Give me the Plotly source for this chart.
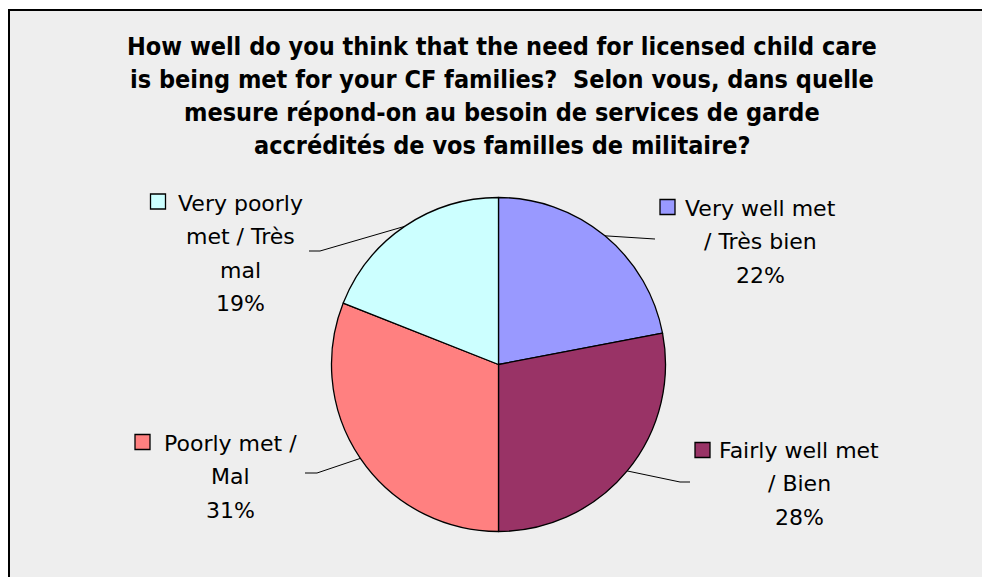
import math

import plotly.graph_objects as go

# ── data ──
CATEGORIES = ["Very well met / Très bien", "Fairly well met / Bien",
              "Poorly met / Mal", "Very poorly met / Très mal"]
VALUES = [22, 28, 31, 19]
COLORS = ["#9999FF", "#993366", "#FF8080", "#CCFFFF"]
# label text as wrapped in the original (the percentage is appended as last line)
LABEL_LINES = [["Very well met", "/ Très bien"],
               ["Fairly well met", "/ Bien"],
               ["Poorly met /", "Mal"],
               ["Very poorly", "met / Très", "mal"]]
TITLE_LINES = ["How well do you think that the need for licensed child care",
               "is being met for your CF families?  Selon vous, dans quelle",
               "mesure répond-on au besoin de services de garde",
               "accrédités de vos familles de militaire?"]

# ── layout, in page pixels of the 982x577 window ──
W, H = 982, 577
CX, CY, R = 498.5, 364.5, 167
BG = "#EEEEEE"
FONT = "Tahoma, 'DejaVu Sans', sans-serif"
TFONT = "'DejaVu Sans Condensed', Tahoma, 'DejaVu Sans', sans-serif"
# per label: text centre x, first line y, key-square centre, leader elbow, leader end
LABEL_POS = [dict(x=760, y=208, key=(667.5, 207), elbow=(650, 239), end=(655, 239)),
             dict(x=799, y=450, key=(702.5, 450), elbow=(680, 482), end=(690, 482)),
             dict(x=230, y=443, key=(142.5, 442), elbow=(317, 473), end=(305, 473)),
             dict(x=240, y=203, key=(158, 201.5), elbow=(320, 251), end=(309, 251))]
LINE_GAP = 33.5

fig = go.Figure()
fig.add_trace(go.Pie(
    values=VALUES, labels=CATEGORIES, sort=False, direction="clockwise", rotation=0,
    marker=dict(colors=COLORS, line=dict(color="black", width=1.3)),
    textinfo="none", hoverinfo="label+percent", showlegend=False,
    domain=dict(x=[(CX - R) / W, (CX + R) / W], y=[(H - CY - R) / H, (H - CY + R) / H])))

# leader lines start on the rim at each slice's mid-angle
total = sum(VALUES)
lx, ly = [], []
cum = 0
for v, p in zip(VALUES, LABEL_POS):
    mid = (cum + v / 2) / total * 2 * math.pi
    cum += v
    lx += [CX + R * math.sin(mid), p["elbow"][0], p["end"][0], None]
    ly += [CY - R * math.cos(mid), p["elbow"][1], p["end"][1], None]
fig.add_trace(go.Scatter(x=lx, y=ly, mode="lines", line=dict(color="black", width=1),
                         hoverinfo="skip", showlegend=False))

# legend-key squares
fig.add_trace(go.Scatter(x=[p["key"][0] for p in LABEL_POS], y=[p["key"][1] for p in LABEL_POS],
                         mode="markers", hoverinfo="skip", showlegend=False,
                         marker=dict(symbol="square", size=15, color=COLORS,
                                     line=dict(color="black", width=1.3))))

annotations = []
for lines, v, p in zip(LABEL_LINES, VALUES, LABEL_POS):
    pct = round(v / total * 100)
    for i, t in enumerate(lines + [f"{pct}%"]):
        annotations.append(dict(x=p["x"], y=p["y"] + i * LINE_GAP, xref="x", yref="y", text=t,
                                showarrow=False, xanchor="center", yanchor="middle",
                                font=dict(family=FONT, size=22, color="black")))
for i, t in enumerate(TITLE_LINES):
    annotations.append(dict(x=502, y=46 + i * 33, xref="x", yref="y", text=f"<b>{t}</b>",
                            showarrow=False, xanchor="center", yanchor="middle",
                            font=dict(family=TFONT, size=25, color="black")))

fig.update_layout(
    width=W, height=H, margin=dict(l=0, r=0, t=0, b=0),
    paper_bgcolor="white", plot_bgcolor="rgba(0,0,0,0)",
    xaxis=dict(range=[0, W], visible=False, fixedrange=True),
    yaxis=dict(range=[H, 0], visible=False, fixedrange=True),
    annotations=annotations,
    shapes=[dict(type="rect", xref="paper", yref="paper", layer="below",
                 x0=9 / W, x1=1.3, y0=-0.3, y1=1 - 10 / H,
                 fillcolor=BG, line=dict(color="black", width=2))],
)

# drop the page's default body margin so the figure sits flush in the window
fig.write_html("out.html", config={"displayModeBar": False},
               post_script="document.body.style.margin='0';"
                           "document.body.style.overflow='hidden';")
